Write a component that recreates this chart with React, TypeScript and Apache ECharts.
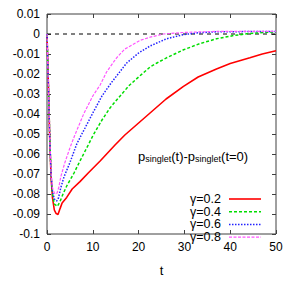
import React, { useEffect, useRef } from 'react';
import * as echarts from 'echarts';

const seriesNames = ['γ=0.2', 'γ=0.4', 'γ=0.6', 'γ=0.8'];
const seriesColors = ['#ff0000', '#00dd00', '#2222ff', '#ff55ff'];

// [t, p_singlet(t) - p_singlet(0)]
const gamma02: [number, number][] = [
  [0, 0], [0.3, -0.025], [0.6, -0.053], [0.9, -0.072], [1.2, -0.082], [1.6, -0.088],
  [2.0, -0.0898], [2.4, -0.0902], [2.85, -0.0873], [3.3, -0.0845], [4.3, -0.0817],
  [5.5, -0.0775], [7.2, -0.0738], [9, -0.0695], [11.6, -0.0635], [14.85, -0.0555],
  [17, -0.0505], [20, -0.0445], [22.5, -0.0395], [26, -0.0325], [29.8, -0.0262],
  [33, -0.0215], [37, -0.0175], [40, -0.0148], [44.3, -0.0119], [47, -0.0100], [50, -0.0084],
];
const gamma04: [number, number][] = [
  [0, 0], [0.3, -0.025], [0.6, -0.052], [0.9, -0.071], [1.2, -0.080], [1.6, -0.085],
  [2.25, -0.0862], [2.8, -0.084], [3.5, -0.080], [4.3, -0.076], [5.9, -0.0695],
  [7.2, -0.0635], [9, -0.0555], [10.1, -0.0505], [12, -0.043], [13.75, -0.037],
  [15, -0.0335], [18, -0.0256], [20, -0.0215], [22.5, -0.0165], [24, -0.0145],
  [26.1, -0.0119], [29.8, -0.0079], [33.4, -0.0048], [37, -0.0024], [40.7, -0.0008],
  [44.3, 0.0003], [50, 0.0011],
];
const gamma06: [number, number][] = [
  [0, 0], [0.3, -0.025], [0.6, -0.052], [0.9, -0.071], [1.2, -0.079], [1.6, -0.0825],
  [2.1, -0.0835], [2.5, -0.082], [3.0, -0.077], [3.7, -0.0715], [5.0, -0.0643],
  [6.5, -0.055], [7.6, -0.050], [8.3, -0.047], [10, -0.0395], [12, -0.031],
  [14, -0.0245], [17.4, -0.0145], [20, -0.0095], [22.5, -0.0060], [24, -0.0045],
  [26.1, -0.0024], [29.8, -0.0003], [33, 0.0006], [37, 0.0011], [50, 0.0013],
];
const gamma08: [number, number][] = [
  [0, 0], [0.3, -0.025], [0.6, -0.052], [0.9, -0.070], [1.2, -0.077], [1.6, -0.0795],
  [1.9, -0.080], [2.2, -0.0795], [2.6, -0.0765], [3.0, -0.0715], [3.9, -0.0643],
  [5.0, -0.057], [6.0, -0.051], [8, -0.040], [10, -0.031], [11.6, -0.0255],
  [13, -0.019], [15.2, -0.0119], [17, -0.0075], [20.3, -0.0032], [22.5, -0.0016],
  [25.4, 0], [30, 0.0008], [37, 0.0013], [50, 0.0013],
];
const zeroLine: [number, number][] = [[0, 0], [50, 0]];
const allData = [gamma02, gamma04, gamma06, gamma08];
const lineTypes: any[] = ['solid', [3, 2], [1.5, 1.5], [3, 1.5]];
const lineWidths = [1.6, 1.5, 1.5, 1.2];

const xTicks = { min: 0, max: 50, interval: 10 };
const yTicks = { min: -0.1, max: 0.01, interval: 0.01 };

const FONT = 'Liberation Sans, Arial, Helvetica, sans-serif';

export default function App() {
  const ref = useRef<HTMLDivElement>(null);
  useEffect(() => {
    if (!ref.current) return;
    const chart = echarts.init(ref.current, null, { renderer: 'svg' });
    const axisLine = { show: false, onZero: false };
    const axisTick = { show: true, inside: true, length: 4, lineStyle: { color: '#404040' } };

    // legend drawn as graphic (text right-aligned, line sample on the right)
    const legendTop = 199;
    const legendStep = 12.7;
    const legendGraphics: any[] = [];
    seriesNames.forEach((name, i) => {
      const cy = legendTop + i * legendStep;
      legendGraphics.push({
        type: 'text', x: 221, y: cy,
        style: {
          text: name, fill: '#000', font: `12.5px ${FONT}`, lineHeight: 12,
          align: 'right', verticalAlign: 'middle',
        },
      });
      legendGraphics.push({
        type: 'line',
        shape: { x1: 229, y1: cy, x2: 261, y2: cy },
        style: {
          stroke: seriesColors[i], lineWidth: lineWidths[i],
          lineDash: lineTypes[i] === 'solid' ? null : lineTypes[i],
        },
      });
    });

    chart.setOption({
      animation: false,
      backgroundColor: '#ffffff',
      grid: {
        left: 47, top: 14, right: 20, bottom: 37,
        show: true, borderColor: '#404040', borderWidth: 1, backgroundColor: 'transparent',
      },
      xAxis: [
        {
          type: 'value', ...xTicks, position: 'bottom',
          axisLine, axisTick, splitLine: { show: false },
          axisLabel: { color: '#000', fontSize: 12, fontFamily: FONT, margin: 7 },
          name: 't', nameLocation: 'middle', nameGap: 30,
          nameTextStyle: { color: '#000', fontSize: 13, fontFamily: FONT },
        },
        {
          type: 'value', ...xTicks, position: 'top',
          axisLine, axisTick, splitLine: { show: false }, axisLabel: { show: false },
        },
      ],
      yAxis: [
        {
          type: 'value', ...yTicks, position: 'left',
          axisLine, axisTick, splitLine: { show: false },
          axisLabel: {
            color: '#000', fontSize: 12, fontFamily: FONT, margin: 7,
            formatter: (v: number) => String(Number(v.toFixed(2))),
          },
        },
        {
          type: 'value', ...yTicks, position: 'right',
          axisLine, axisTick, splitLine: { show: false }, axisLabel: { show: false },
        },
      ],
      graphic: [
        {
          type: 'text', left: 138, top: 148,
          style: {
            text: 'p{s|singlet}(t)-p{s|singlet}(t=0)',
            fill: '#000',
            font: `13px ${FONT}`,
            rich: {
              s: { fontSize: 9, fontFamily: FONT, verticalAlign: 'bottom', lineHeight: 10, padding: [6, 0, 0, 0] },
            },
          },
        },
        ...legendGraphics,
      ],
      series: [
        {
          type: 'line', name: 'zero', data: zeroLine, showSymbol: false, symbol: 'none', z: 1,
          silent: true,
          lineStyle: { color: '#000', width: 1, type: [4, 4] },
        },
        ...allData.map((d, i) => ({
          type: 'line',
          name: seriesNames[i],
          data: d,
          showSymbol: false,
          symbol: 'none',
          z: 2 + i,
          lineStyle: { color: seriesColors[i], width: lineWidths[i], type: lineTypes[i] },
          itemStyle: { color: seriesColors[i] },
        })),
      ],
    });
    return () => chart.dispose();
  }, []);
  return <div ref={ref} style={{ width: 296, height: 282, position: 'absolute', left: 0, top: 0 }} />;
}
